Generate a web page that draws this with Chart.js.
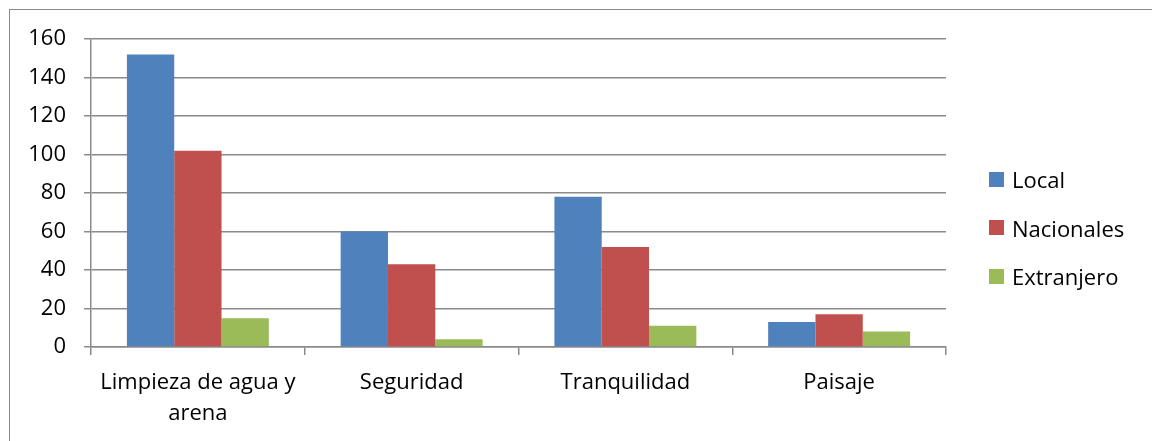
<!DOCTYPE html>
<html>
<head>
    <title>Chart</title>
    <script src="https://cdn.jsdelivr.net/npm/chart.js"></script>
    <style>
        body {
            margin: 0;
            background: white;
            overflow: hidden;
            font-family: 'Open Sans', sans-serif;
        }
        .frame {
            position: absolute;
            left: 9px;
            top: 9px;
            width: 1200px;
            height: 500px;
            border: 1px solid #8a8a8a;
        }
        .wrap {
            position: absolute;
            left: 0;
            top: 0;
            width: 1152px;
            height: 441px;
        }
        .legend {
            position: absolute;
            left: 989px;
            top: 155px;
        }
        .legend-item {
            display: flex;
            align-items: center;
            height: 48.5px;
            font-size: 22px;
            color: #000;
        }
        .legend-color {
            width: 15px;
            height: 15px;
            margin-right: 8px;
        }
    </style>
</head>
<body>
    <div class="frame"></div>
    <div class="wrap"><canvas id="barChart"></canvas></div>
    <div class="legend" id="legend-container"></div>

    <script>
        const categories = [['Limpieza de agua y', 'arena'], 'Seguridad', 'Tranquilidad', 'Paisaje'];
        const seriesNames = ['Local', 'Nacionales', 'Extranjero'];
        const local = [152, 60, 78, 13];
        const nacionales = [102, 43, 52, 17];
        const extranjero = [15, 4, 11, 8];
        const yTicks = [0, 20, 40, 60, 80, 100, 120, 140, 160];
        const colors = ['#4f81bd', '#c0504d', '#9bbb59'];

        const gray = '#8a8a8a';
        const font = { family: "'Open Sans', sans-serif", size: 22 };

        const ctx = document.getElementById('barChart').getContext('2d');
        const chart = new Chart(ctx, {
            type: 'bar',
            data: {
                labels: categories,
                datasets: [local, nacionales, extranjero].map((d, i) => ({
                    label: seriesNames[i],
                    data: d,
                    backgroundColor: colors[i],
                    borderWidth: 0,
                    categoryPercentage: 0.664,
                    barPercentage: 1.0
                }))
            },
            options: {
                responsive: true,
                maintainAspectRatio: false,
                animation: false,
                layout: { padding: { left: 0, right: 206, top: 39, bottom: 0 } },
                plugins: {
                    legend: { display: false },
                    tooltip: { enabled: false }
                },
                scales: {
                    x: {
                        grid: {
                            offset: true,
                            drawOnChartArea: false,
                            color: gray,
                            lineWidth: 1.5,
                            tickLength: 8
                        },
                        border: { color: gray, width: 1.5 },
                        ticks: {
                            color: '#000',
                            font: { ...font, lineHeight: 1.42 },
                            padding: 12,
                            maxRotation: 0,
                            autoSkip: false
                        },
                        afterFit: s => { s.height = 441 - 347; }
                    },
                    y: {
                        min: 0,
                        max: 160,
                        afterBuildTicks: s => { s.ticks = yTicks.map(v => ({ value: v })); },
                        grid: {
                            color: gray,
                            lineWidth: 1.5,
                            tickLength: 7
                        },
                        border: { color: gray, width: 1.5 },
                        ticks: {
                            color: '#000',
                            font: font,
                            padding: 18
                        },
                        afterFit: s => { s.width = 91; }
                    }
                }
            }
        });

        // leyenda a la derecha
        const legendContainer = document.getElementById('legend-container');
        chart.data.datasets.forEach(ds => {
            const item = document.createElement('div');
            item.className = 'legend-item';
            item.innerHTML = `<div class="legend-color" style="background:${ds.backgroundColor};"></div><span>${ds.label}</span>`;
            legendContainer.appendChild(item);
        });
    </script>
</body>
</html>
